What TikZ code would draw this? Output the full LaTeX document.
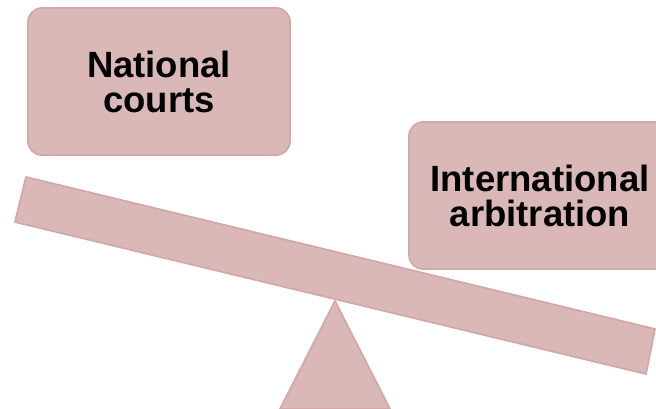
\documentclass[tikz,border=0pt]{standalone}
\usepackage{fontspec}
\setmainfont{Liberation Sans}
\definecolor{pinkfill}{RGB}{219,184,184}
\definecolor{pinkline}{RGB}{211,168,168}
\tikzset{
  part/.style={fill=pinkfill, draw=pinkline, line width=1.8pt, line join=round},
  weightbox/.style={part, rounded corners=14pt, minimum width=262pt, minimum height=147pt,
    inner sep=0pt, align=center, font=\bfseries\fontsize{36.5}{35}\selectfont, text=black}
}
\begin{document}
\begin{tikzpicture}[x=1pt,y=-1pt]
\useasboundingbox (0,0) rectangle (656,408);
% beam
\coordinate (b1) at (26,177);
\coordinate (b2) at (655,329);
\coordinate (b3) at (646,374);
\coordinate (b4) at (15,222);
\draw[part] (b1) -- (b2) -- (b3) -- (b4) -- cycle;
% fulcrum
\coordinate (apex) at (335,301);
\coordinate (baseL) at (280,409);
\coordinate (baseR) at (390,409);
\draw[part] (apex) -- (baseR) -- (baseL) -- cycle;
% boxes
\node[weightbox] (national) at (159,81.5) {National\\courts};
\node[weightbox] (intl) at (540,195.5) {International\\arbitration};
\end{tikzpicture}
\end{document}
